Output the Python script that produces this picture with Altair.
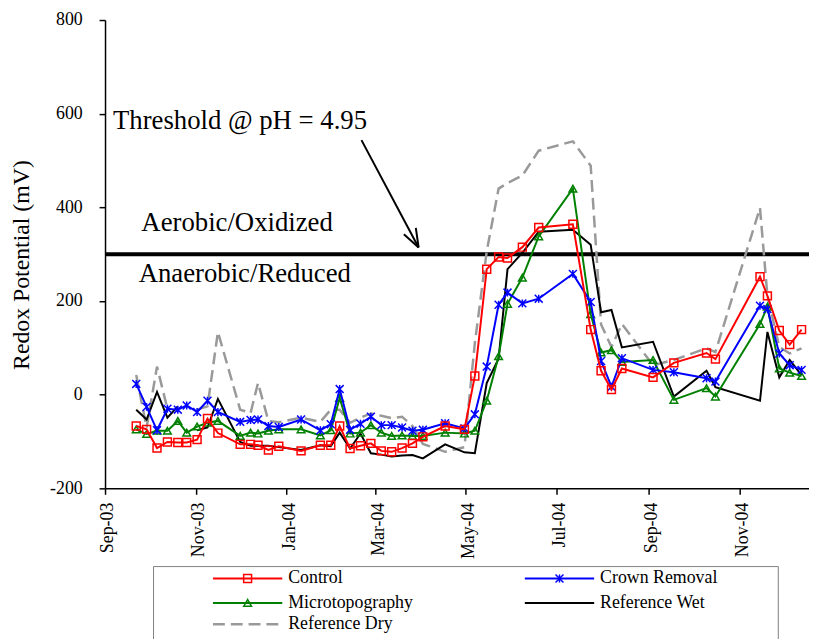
import altair as alt
import pandas as pd

# ---------------- data ----------------
dates = ["2003-09-22", "2003-09-29", "2003-10-06", "2003-10-13", "2003-10-20", "2003-10-26",
         "2003-11-02", "2003-11-09", "2003-11-16", "2003-12-01", "2003-12-08", "2003-12-13",
         "2003-12-20", "2003-12-27", "2004-01-11", "2004-01-24", "2004-01-31", "2004-02-06",
         "2004-02-13", "2004-02-20", "2004-02-27", "2004-03-05", "2004-03-12", "2004-03-19",
         "2004-03-26", "2004-04-02", "2004-04-17", "2004-04-30", "2004-05-07", "2004-05-15",
         "2004-05-23", "2004-05-29", "2004-06-08", "2004-06-19", "2004-07-12", "2004-07-24",
         "2004-07-31", "2004-08-07", "2004-08-14", "2004-09-04", "2004-09-18", "2004-10-10",
         "2004-10-16", "2004-11-15", "2004-11-20", "2004-11-28", "2004-12-05", "2004-12-13"]

control = [-67, -74, -114, -101, -102, -102, -96, -51, -82, -106,
           -106, -108, -118, -110, -120, -108, -108, -67, -115, -109,
           -104, -120, -122, -114, -104, -90, -67, -74, 40, 268,
           294, 292, 315, 357, 364, 139, 51, 11, 56, 37,
           68, 89, 76, 252, 211, 137, 107, 139]

crown = [23, -26, -76, -30, -32, -23, -37, -13, -37, -58,
         -54, -53, -67, -69, -53, -76, -63, 12, -75, -62,
         -47, -65, -65, -70, -77, -75, -61, -72, -42, 60,
         192, 218, 195, 205, 258, 198, 72, 17, 78, 53,
         48, 35, 28, 190, 183, 88, 63, 53]

micro = [-74, -84, -77, -77, -56, -81, -68, -60, -56, -88,
         -81, -83, -77, -74, -74, -87, -76, -7, -83, -81,
         -65, -81, -88, -87, -88, -88, -81, -83, -77, -13,
         82, 194, 250, 338, 440, 172, 90, 95, 70, 74,
         -11, 14, -4, 151, 188, 56, 47, 40]

wet = [-32, -53, 6, -49, -25, None, -76, -70, -9, -101,
       -109, -109, -109, -112, -118, -108, -110, -81, -115, -83,
       -125, -128, -132, -130, -129, -136, -106, -123, -125, 25,
       77, 268, 303, 348, 352, 320, 176, 181, 101, 113,
       -4, 51, 16, -13, 134, 37, 74, 42]

dry = [42, -70, 60, -30, None, None, -32, -25, 134, -32,
       -39, 25, -56, -59, -49, -58, -32, -32, -60, -49,
       -40, -45, -50, -47, -67, -105, -122, -112, 110, 306,
       440, 452, 468, 521, 541, 489, 150, 102, 151, 63,
       74, 99, 91, 399, 211, 102, 88, 99]

series_names = ["Control", "Crown Removal", "Microtopography", "Reference Wet", "Reference Dry"]
series_values = [control, crown, micro, wet, dry]

tick_dates = ["2003-09-01", "2003-11-01", "2004-01-01", "2004-03-01",
              "2004-05-01", "2004-07-01", "2004-09-01", "2004-11-01"]
y_ticks = [-200, 0, 200, 400, 600, 800]
threshold = 300

# ---------------- build table ----------------
rows = []
for name, vals in zip(series_names, series_values):
    seg = 0
    for d, v in zip(dates, vals):
        if v is None:
            seg += 1
            continue
        rows.append({"series": name, "date": d, "value": v, "seg": seg})
df = pd.DataFrame(rows)

# ---------------- styles ----------------
FONT = "Liberation Serif"
STAR = "M-1,-1L1,1M-1,1L1,-1M0,-1L0,1"
style = {
    "Control": dict(color="#FF0000", width=2, shape="square", size=64),
    "Crown Removal": dict(color="#0000FF", width=2, shape=STAR, size=64),
    "Microtopography": dict(color="#008000", width=2, shape="triangle-up", size=60),
    "Reference Wet": dict(color="#000000", width=2),
    "Reference Dry": dict(color="#999999", width=2.5, dash=[12, 6]),
}

W, H = 711, 473


def dt(s):
    y, m, d = (int(p) for p in s.split("-"))
    return alt.DateTime(year=y, month=m, date=d, utc=True)


X = alt.X(
    "date:T",
    scale=alt.Scale(type="utc", domain=[dt("2003-09-01"), dt("2004-12-18")]),
    axis=alt.Axis(
        values=[dt(s) for s in tick_dates],
        labelExpr="utcFormat(datum.value, '%b-%y')",
        labelAngle=-90, labelAlign="right", labelBaseline="middle", labelOffset=3,
        labelFont=FONT, labelFontSize=18, labelColor="black", labelPadding=8,
        labelFlush=False, labelOverlap=False,
        tickSize=6, tickColor="black", tickWidth=1.5,
        domainColor="black", domainWidth=1.5, grid=False, title=None,
    ),
)
Y = alt.Y(
    "value:Q",
    scale=alt.Scale(domain=[-200, 800], nice=False, zero=False),
    axis=alt.Axis(
        values=y_ticks, labelExpr="'' + datum.value",
        labelFont=FONT, labelFontSize=18, labelColor="black", labelPadding=17,
        tickSize=6, tickColor="black", tickWidth=1.5,
        domainColor="black", domainWidth=1.5, grid=False,
        title="Redox Potential (mV)", titleFont=FONT, titleFontSize=24,
        titleFontWeight="normal", titleColor="black",
        titleX=-84, titleY=247, titleAngle=-90, titleAlign="center", titleBaseline="middle",
    ),
)

layers = []
one = pd.DataFrame({"k": [0]})

# threshold line
layers.append(alt.Chart(one).mark_rule(color="black", strokeWidth=4).encode(
    y=alt.datum(threshold), x=alt.value(0), x2=alt.value(W)))

for name in ["Reference Dry", "Reference Wet", "Microtopography", "Crown Removal", "Control"]:
    sub = df[df.series == name]
    st = style[name]
    lk = dict(color=st["color"], strokeWidth=st["width"])
    if "dash" in st:
        lk["strokeDash"] = st["dash"]
    layers.append(alt.Chart(sub).mark_line(**lk).encode(x=X, y=Y, detail="seg:N"))
    if "shape" in st:
        layers.append(alt.Chart(sub).mark_point(
            shape=st["shape"], filled=False, color=st["color"], size=st["size"],
            strokeWidth=1.5, opacity=1).encode(x=X, y=Y))

# annotations
def txt(s, x, y, size=27, baseline="alphabetic"):
    return alt.Chart(one).mark_text(
        text=s, font=FONT, fontSize=size, align="left", baseline=baseline, color="black"
    ).encode(x=alt.value(x), y=alt.value(y))

layers.append(txt("Threshold @ pH = 4.95", 8, 109.7))
layers.append(txt("Aerobic/Oxidized", 36.7, 213))
layers.append(txt("Anaerobic/Reduced", 34, 264.7))

def seg_rule(x1, y1, x2, y2, color="black", w=2):
    return alt.Chart(one).mark_rule(color=color, strokeWidth=w).encode(
        x=alt.value(x1), y=alt.value(y1), x2=alt.value(x2), y2=alt.value(y2))

tip = (316.7, 229.7)
layers.append(seg_rule(259, 121.3, tip[0], tip[1]))
layers.append(seg_rule(tip[0] - 14.9, tip[1] - 13.4, tip[0], tip[1]))
layers.append(seg_rule(tip[0] - 2.8, tip[1] - 19.8, tip[0], tip[1]))

# legend (manual, below the plot)
layers.append(alt.Chart(one).mark_rect(fill="white", stroke="#808080", strokeWidth=1).encode(
    x=alt.value(49), x2=alt.value(680), y=alt.value(552), y2=alt.value(660)))
col_x = [109, 424]
row_y = [564, 588.7, 610.3]
for i, name in enumerate(series_names):
    st = style[name]
    lx = col_x[i % 2]
    ly = row_y[i // 2]
    rk = dict(color=st["color"], strokeWidth=st["width"])
    if "dash" in st:
        rk["strokeDash"] = st["dash"]
    layers.append(alt.Chart(one).mark_rule(**rk).encode(
        x=alt.value(lx), x2=alt.value(lx + 70), y=alt.value(ly)))
    if "shape" in st:
        layers.append(alt.Chart(one).mark_point(
            shape=st["shape"], filled=False, color=st["color"], size=st["size"],
            strokeWidth=1.5, opacity=1).encode(x=alt.value(lx + 35), y=alt.value(ly)))
    layers.append(txt(name, lx + 76, ly, size=18, baseline="middle"))

chart = alt.layer(*layers).properties(
    width=W, height=H,
    autosize=alt.AutoSizeParams(type="none"),
    padding={"left": 98, "top": 9, "right": 0, "bottom": 149},
).configure_view(stroke=None)

chart.save("out.html", embed_options={"renderer": "svg", "actions": False})
